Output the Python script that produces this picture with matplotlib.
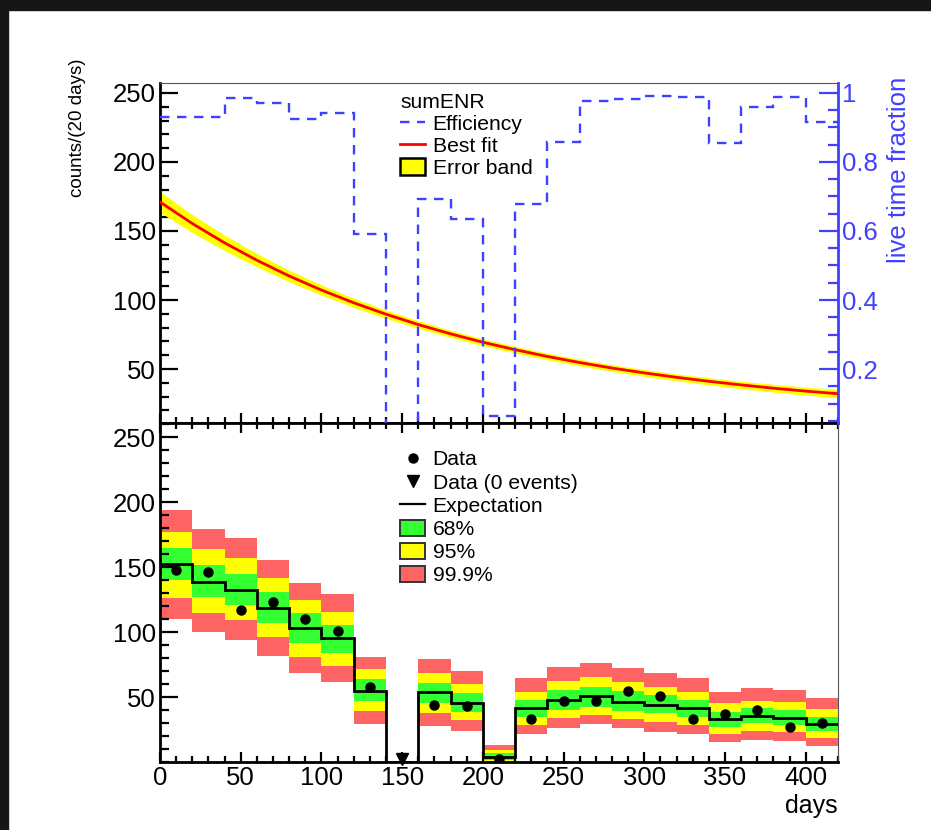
import matplotlib
matplotlib.use("Agg")
import matplotlib.pyplot as plt
from matplotlib.lines import Line2D
from matplotlib.patches import Patch, Rectangle
from matplotlib.ticker import FixedLocator, MultipleLocator, FixedFormatter
from matplotlib import font_manager
import numpy as np

plt.rcParams['font.family'] = ['Liberation Sans', 'DejaVu Sans']

# ---------------- data ----------------
bin_edges = [0, 20, 40, 60, 80, 100, 120, 140, 160, 180, 200, 220, 240, 260, 280,
             300, 320, 340, 360, 380, 400, 420]
bin_centers = [10, 30, 50, 70, 90, 110, 130, 150, 170, 190, 210, 230, 250, 270, 290,
               310, 330, 350, 370, 390, 410]

# live time fraction per 20-day bin (right axis, top panel)
efficiency = [0.931, 0.931, 0.986, 0.970, 0.925, 0.941, 0.591, 0.0, 0.693, 0.635, 0.065,
              0.677, 0.859, 0.978, 0.983, 0.992, 0.987, 0.854, 0.958, 0.987, 0.917]

# best-fit curve sampled every 20 days (top panel)
fit_days = [0, 20, 40, 60, 80, 100, 120, 140, 160, 180, 200, 220, 240, 260, 280, 300,
            320, 340, 360, 380, 400, 420]
fit_counts = [171.0, 155.4, 141.4, 128.8, 117.4, 107.2, 98.0, 89.7, 82.2, 75.5, 69.4,
              64.0, 59.1, 54.7, 50.7, 47.2, 44.0, 41.1, 38.5, 36.1, 34.0, 32.1]
fit_err = [7.5, 6.5, 5.6, 4.8, 4.2, 3.7, 3.3, 3.0, 2.8, 2.6, 2.5, 2.4, 2.4, 2.4, 2.4,
           2.5, 2.5, 2.6, 2.7, 2.8, 2.9, 3.0]

# bottom panel
expectation = [152.3, 138.7, 132.3, 118.7, 102.8, 95.1, 54.9, 0.0, 54.1, 45.1, 3.5,
               41.3, 47.7, 50.8, 46.4, 43.8, 41.3, 32.8, 35.4, 34.1, 29.2]
data_counts = [148, 146, 117, 123, 110, 101, 58, 0, 44, 43, 2, 33, 47, 47, 55, 51,
               33, 37, 40, 27, 30]
band999_lo = [110, 99.7, 93.8, 81.8, 68.2, 61.3, 29.2, np.nan, 27.7, 24.1, 0, 21.3,
              26.4, 29.0, 25.9, 23.3, 21.3, 15.6, 16.9, 16.4, 12.3]
band95_lo = [125.9, 114.4, 109.2, 96.4, 81.0, 74.1, 39.2, np.nan, 37.4, 32.3, 0, 28.5,
             33.6, 36.2, 32.8, 31.0, 28.5, 21.5, 23.8, 22.8, 18.2]
band68_lo = [140.0, 127.2, 120.8, 106.7, 91.3, 83.6, 46.9, np.nan, 45.1, 38.7, 1.5, 34.9,
             40.0, 42.6, 39.2, 37.4, 34.9, 27.2, 29.7, 28.5, 24.1]
band68_hi = [164.4, 151.5, 145.0, 131.0, 114.4, 105.4, 63.6, np.nan, 61.0, 52.8, 6.7, 47.7,
             55.4, 57.9, 54.6, 51.5, 47.7, 38.7, 41.3, 40.0, 34.9]
band95_hi = [177.2, 163.6, 156.7, 141.3, 124.6, 115.6, 71.3, np.nan, 68.7, 59.7, 9.2, 54.1,
             62.3, 65.1, 61.3, 57.9, 54.1, 45.1, 47.2, 45.9, 40.5]
band999_hi = [193.8, 179.0, 172.0, 155.4, 137.4, 129.0, 80.5, np.nan, 79.0, 70.3, 13.0, 64.4,
              72.8, 75.9, 72.1, 68.2, 64.4, 54.1, 56.7, 55.4, 49.5]

x_ticks = [0, 50, 100, 150, 200, 250, 300, 350, 400]
y_ticks = [50, 100, 150, 200, 250]
y2_ticks = [0.2, 0.4, 0.6, 0.8, 1.0]
y2_labels = ['0.2', '0.4', '0.6', '0.8', '1']

# ---------------- style ----------------
BLUE = '#4040ff'
GREEN = '#33ff33'
YELLOW = '#ffff00'
LRED = '#ff6464'

W, H = 931, 830
fig = plt.figure(figsize=(W / 100, H / 100), dpi=100)
fig.patch.set_facecolor('white')
# dark surrounding at top and left edge
fig.patches.append(Rectangle((0, 1 - 10 / H), 1, 10 / H, transform=fig.transFigure,
                             color='#161616', zorder=-10))
fig.patches.append(Rectangle((0, 0), 8 / W, 1, transform=fig.transFigure,
                             color='#161616', zorder=-10))

L = 160 / W
AW = 678 / W
axT = fig.add_axes([L, (H - 423) / H, AW, 340 / H])
axB = fig.add_axes([L, (H - 762) / H, AW, 339 / H])

TL = 18.5  # tick label size


def style_axis(ax, top_ticks):
    ax.set_xlim(0, 420)
    ax.xaxis.set_major_locator(FixedLocator(x_ticks))
    ax.xaxis.set_minor_locator(MultipleLocator(10))
    ax.yaxis.set_major_locator(FixedLocator(y_ticks))
    ax.yaxis.set_minor_locator(MultipleLocator(10))
    ax.tick_params(axis='x', which='both', direction='in', top=top_ticks, bottom=True,
                   width=1.6, labelsize=TL, pad=3)
    ax.tick_params(axis='x', which='major', length=7.5)
    ax.tick_params(axis='x', which='minor', length=4)
    ax.tick_params(axis='y', which='both', direction='in', left=True, right=False,
                   width=1.6, labelsize=TL, pad=3)
    ax.tick_params(axis='y', which='major', length=13)
    ax.tick_params(axis='y', which='minor', length=6.5)
    for s in ['left', 'bottom']:
        ax.spines[s].set_linewidth(2.0)
        ax.spines[s].set_color('black')


# ---------------- top panel ----------------
style_axis(axT, top_ticks=False)
axT.set_ylim(10.9, 257.2)
axT.tick_params(axis='x', labelbottom=False)
axT.spines['top'].set_linewidth(0.8)
axT.spines['top'].set_color('#555555')
axT.spines['right'].set_visible(False)

lo = [c - e for c, e in zip(fit_counts, fit_err)]
hi = [c + e for c, e in zip(fit_counts, fit_err)]
axT.fill_between(fit_days, lo, hi, color=YELLOW, linewidth=0, zorder=2)
axT.plot(fit_days, fit_counts, color='red', lw=2.0, zorder=3)

axR = axT.twinx()
axR.set_ylim(10.9 / 250, 257.2 / 250)
axR.stairs(efficiency, bin_edges, baseline=None, color=BLUE, lw=1.7,
           linestyle=(0, (4, 3.2)), zorder=4)
axR.yaxis.set_major_locator(FixedLocator(y2_ticks))
axR.yaxis.set_major_formatter(FixedFormatter(y2_labels))
axR.yaxis.set_minor_locator(MultipleLocator(0.05))
axR.tick_params(axis='y', which='both', direction='in', right=True, left=False,
                colors=BLUE, width=1.6, labelsize=TL, pad=3)
axR.tick_params(axis='y', which='major', length=14)
axR.tick_params(axis='y', which='minor', length=7)
for s in ['left', 'top', 'bottom']:
    axR.spines[s].set_visible(False)
axR.spines['right'].set_color(BLUE)
axR.spines['right'].set_linewidth(2.0)

LF = 15.2
hT = [Line2D([], [], color=BLUE, lw=1.7, linestyle=(0, (4, 3.2))),
      Line2D([], [], color='red', lw=2.0),
      Patch(facecolor=YELLOW, edgecolor='black', linewidth=1.8)]
legT = axR.legend(hT, ['Efficiency', 'Best fit', 'Error band'], title='sumENR',
                  loc='upper left', bbox_to_anchor=((400 - 160) / 678, (423 - 93) / 340),
                  frameon=False, fontsize=LF, title_fontsize=LF, alignment='left',
                  borderpad=0, borderaxespad=0, handlelength=1.2, handletextpad=0.35,
                  labelspacing=0.12, handleheight=0.8)

# ---------------- bottom panel ----------------
style_axis(axB, top_ticks=True)
axB.set_ylim(0, 260.8)
axB.spines['top'].set_linewidth(2.0)
axB.spines['right'].set_linewidth(0.8)
axB.spines['right'].set_color('#555555')

lefts = bin_edges[:-1]
def band(lo_, hi_, color):
    h = [b - a for a, b in zip(lo_, hi_)]
    axB.bar(lefts, h, bottom=lo_, width=20, align='edge', color=color, linewidth=0,
            zorder=1)

band(band999_lo, band999_hi, LRED)
band(band95_lo, band95_hi, YELLOW)
band(band68_lo, band68_hi, GREEN)
axB.stairs(expectation, bin_edges, baseline=None, color='black', lw=2.0, zorder=3)

xc_pts = [x for x, d in zip(bin_centers, data_counts) if d > 0]
yc_pts = [d for d in data_counts if d > 0]
axB.plot(xc_pts, yc_pts, 'o', color='black', ms=6.5, zorder=5)
xz = [x for x, d in zip(bin_centers, data_counts) if d == 0]
axB.plot(xz, [2.5] * len(xz), 'v', color='black', ms=9, zorder=5, clip_on=False)

hB = [Line2D([], [], color='black', marker='o', ms=6.5, linestyle='none'),
      Line2D([], [], color='black', marker='v', ms=8, linestyle='none'),
      Line2D([], [], color='black', lw=1.6),
      Patch(facecolor=GREEN, edgecolor='#333333', linewidth=1.4),
      Patch(facecolor=YELLOW, edgecolor='#333333', linewidth=1.4),
      Patch(facecolor=LRED, edgecolor='#333333', linewidth=1.4)]
axB.legend(hB, ['Data', 'Data (0 events)', 'Expectation', '68%', '95%', '99.9%'],
           loc='upper left', bbox_to_anchor=((400 - 160) / 678, (762 - 450) / 339),
           frameon=False, fontsize=LF, borderpad=0, borderaxespad=0,
           handlelength=1.2, handletextpad=0.35, labelspacing=0.18, handleheight=0.8)

# ---------------- axis titles ----------------
try:
    font_manager.findfont('Liberation Sans Narrow', fallback_to_default=False)
    ylab_family, ylab_size = ['Liberation Sans Narrow', 'Liberation Sans'], 14.5
except Exception:
    ylab_family, ylab_size = ['Liberation Sans', 'DejaVu Sans'], 13.5
fig.text(78 / W, 1 - 128 / H, 'counts/(20 days)', rotation=90, ha='center', va='center',
         fontsize=ylab_size, family=ylab_family)
fig.text(899 / W, 1 - 170 / H, 'live time fraction', rotation=90, ha='center',
         va='center', fontsize=18.5, color=BLUE)
fig.text(838 / W, 1 - 806 / H, 'days', ha='right', va='center', fontsize=18)

fig.savefig('out.png', dpi=100)
